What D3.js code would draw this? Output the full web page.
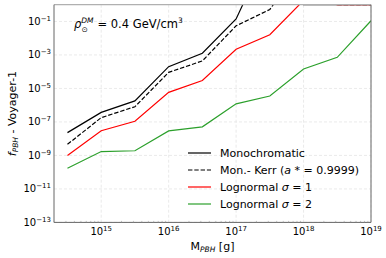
<!DOCTYPE html>
<html>
<head>
<script src="https://d3js.org/d3.v7.min.js"></script>
<style>
  body { margin: 0; background: #fff; }
  text { font-family: "DejaVu Sans", sans-serif; }
</style>
</head>
<body>
<script>
// masses in g (half-decade steps)
var masses = [3.16e14, 1e15, 3.16e15, 1e16, 3.16e16, 1e17, 3.16e17, 1e18, 3.16e18, 1e19];

// f_PBH bounds (values >1 run off the top)
var mono      = [2.3e-8, 3.7e-7, 1.8e-6, 2.0e-4, 1.26e-3, 0.14, 3e3, 1, 1, 1];
var kerr      = [4.6e-9, 1.8e-7, 8.1e-7, 9.1e-5, 4.4e-4, 0.055, 0.52, 300, 1, 1];
var logn1     = [1.0e-9, 3.0e-8, 1.1e-7, 5.8e-6, 3.0e-5, 2.2e-3, 0.016, 1.8, 1, 1];
var logn2     = [1.7e-10, 1.7e-9, 1.9e-9, 2.9e-8, 5.1e-8, 1.2e-6, 3.5e-6, 1.45e-4, 7.2e-4, 0.11];

var xTicks = [15, 16, 17, 18, 19];
var yTicks = [-1, -3, -5, -7, -9, -11, -13];

var series = [
  {name: "Monochromatic", values: mono, color: "#000000", dash: null},
  {name: "Mon.- Kerr", values: kerr, color: "#000000", dash: "4.4,1.9"},
  {name: "Lognormal", values: logn1, color: "#ff0000", dash: null, sigma: "1"},
  {name: "Lognormal", values: logn2, color: "#2ca02c", dash: null, sigma: "2"}
];

var W = 386, H = 258;
var pL = 54, pR = 371, pT = 4.7, pB = 222.4;

var svg = d3.select("body").append("svg")
  .attr("width", W).attr("height", H);

var x = d3.scaleLog().domain([Math.pow(10, 14.3), 1e19]).range([pL, pR]);
var y = d3.scaleLog().domain([1e-13, 1]).range([pB, pT]);

svg.append("defs").append("clipPath").attr("id", "clip")
  .append("rect").attr("x", pL).attr("y", pT)
  .attr("width", pR - pL).attr("height", pB - pT);

// grid
var grid = svg.append("g");
xTicks.forEach(function(e) {
  grid.append("line")
    .attr("x1", x(Math.pow(10, e))).attr("x2", x(Math.pow(10, e)))
    .attr("y1", pT).attr("y2", pB)
    .attr("stroke", "#e4e4e4").attr("stroke-width", 0.8).attr("stroke-dasharray", "3,2");
});
yTicks.forEach(function(e) {
  grid.append("line")
    .attr("x1", pL).attr("x2", pR)
    .attr("y1", y(Math.pow(10, e))).attr("y2", y(Math.pow(10, e)))
    .attr("stroke", "#e4e4e4").attr("stroke-width", 0.8).attr("stroke-dasharray", "3,2");
});

// curves
var line = d3.line()
  .x(function(d) { return x(d[0]); })
  .y(function(d) { return y(d[1]); });

var plot = svg.append("g").attr("clip-path", "url(#clip)");
series.forEach(function(s) {
  plot.append("path")
    .datum(masses.map(function(m, i) { return [m, s.values[i]]; }))
    .attr("d", line)
    .attr("fill", "none")
    .attr("stroke", s.color)
    .attr("stroke-width", 1.2)
    .attr("stroke-dasharray", s.dash);
});

// frame
svg.append("line").attr("x1", pL).attr("x2", pR).attr("y1", pT).attr("y2", pT)
  .attr("stroke", "#b0b0b0").attr("stroke-width", 1.2);
svg.append("line").attr("x1", pL).attr("x2", pL).attr("y1", pT).attr("y2", pB)
  .attr("stroke", "#666").attr("stroke-width", 1);
svg.append("line").attr("x1", pR).attr("x2", pR).attr("y1", pT).attr("y2", pB)
  .attr("stroke", "#666").attr("stroke-width", 1);
svg.append("line").attr("x1", pL).attr("x2", pR).attr("y1", pB).attr("y2", pB)
  .attr("stroke", "#666").attr("stroke-width", 1);

// minor x ticks
var minor = [];
for (var e = 14; e < 19; e++) {
  for (var k = 2; k <= 9; k++) {
    var v = k * Math.pow(10, e);
    if (v > x.domain()[0] && v < 1e19) minor.push(v);
  }
}
svg.append("g").selectAll("line").data(minor).enter().append("line")
  .attr("x1", function(d) { return x(d); }).attr("x2", function(d) { return x(d); })
  .attr("y1", pB).attr("y2", pB - 1.5)
  .attr("stroke", "#999").attr("stroke-width", 0.6);

// x tick labels
var xl = svg.append("g");
xTicks.forEach(function(e) {
  var t = xl.append("text")
    .attr("x", x(Math.pow(10, e))).attr("y", 235)
    .attr("text-anchor", "middle").attr("font-size", 10).attr("fill", "#000");
  t.append("tspan").text("10");
  t.append("tspan").attr("font-size", 7).attr("dy", -4).text(e);
});

// y tick labels
var yl = svg.append("g");
yTicks.forEach(function(e) {
  var t = yl.append("text")
    .attr("x", 51).attr("y", y(Math.pow(10, e)) + 3.5)
    .attr("text-anchor", "end").attr("font-size", 10).attr("fill", "#000");
  t.append("tspan").text("10");
  t.append("tspan").attr("font-size", 7).attr("dy", -4).text("\u2212" + (-e));
});

// axis labels
var xlab = svg.append("text")
  .attr("x", (pL + pR) / 2).attr("y", 250)
  .attr("text-anchor", "middle").attr("font-size", 11);
xlab.append("tspan").text("M");
xlab.append("tspan").attr("font-size", 7.5).attr("dy", 2).attr("font-style", "italic").text("PBH");
xlab.append("tspan").attr("dy", -2).text(" [g]");

var ylab = svg.append("text")
  .attr("transform", "translate(16," + ((pT + pB) / 2) + ") rotate(-90)")
  .attr("text-anchor", "middle").attr("font-size", 11);
ylab.append("tspan").attr("font-style", "italic").text("f");
ylab.append("tspan").attr("font-size", 7.5).attr("dy", 2).attr("font-style", "italic").text("PBH");
ylab.append("tspan").attr("dy", -2).text(" - Voyager-1");

// annotation
var ann = svg.append("text").attr("x", 74).attr("y", 28).attr("font-size", 11.5);
ann.append("tspan").attr("font-style", "italic").text("\u03c1");
ann.append("tspan").attr("font-size", 7.5).attr("dy", -5).attr("font-style", "italic").text("DM");
ann.append("tspan").attr("font-size", 7.5).attr("dx", -12).attr("dy", 9).text("\u2299");
ann.append("tspan").attr("dy", -4).attr("dx", 6).text(" = 0.4 GeV/cm");
ann.append("tspan").attr("font-size", 7.5).attr("dy", -5).text("3");

// legend
var leg = svg.append("g");
var rows = [157, 174, 191, 208];
series.forEach(function(s, i) {
  leg.append("line")
    .attr("x1", 188).attr("x2", 211).attr("y1", rows[i] - 4).attr("y2", rows[i] - 4)
    .attr("stroke", s.color).attr("stroke-width", 1.2)
    .attr("stroke-dasharray", s.dash);
  var t = leg.append("text").attr("x", 220).attr("y", rows[i]).attr("font-size", 11);
  if (i === 0) t.text(s.name);
  else if (i === 1) {
    t.append("tspan").text("Mon.- Kerr (");
    t.append("tspan").attr("font-style", "italic").text("a");
    t.append("tspan").text(" * = 0.9999)");
  } else {
    t.append("tspan").text("Lognormal ");
    t.append("tspan").attr("font-style", "italic").text("\u03c3");
    t.append("tspan").text(" = " + s.sigma);
  }
});
</script>
</body>
</html>
